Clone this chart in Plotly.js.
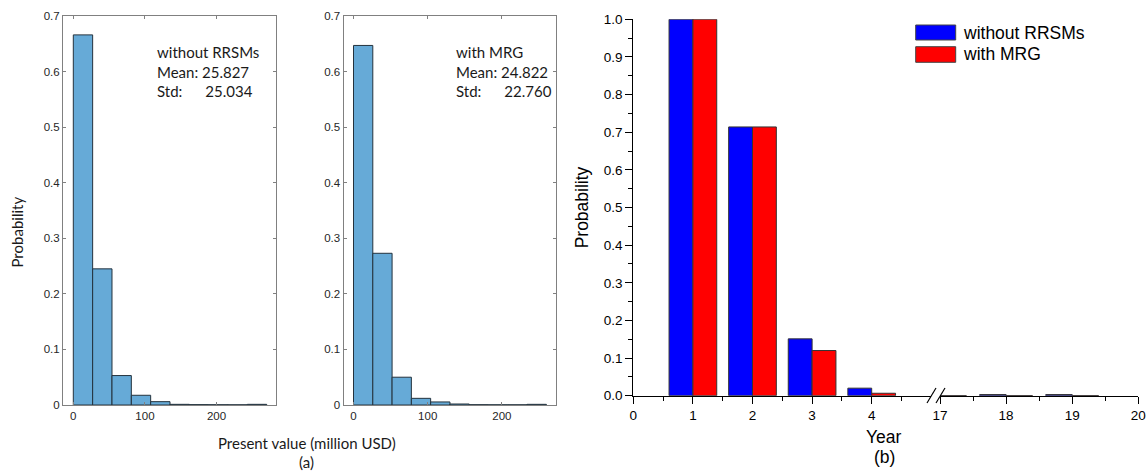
<!DOCTYPE html>
<html><head><meta charset="utf-8">
<script src="https://cdn.plot.ly/plotly-3.0.1.min.js"></script>
<style>html,body{margin:0;padding:0;background:#fff}#chart{width:1147px;height:474px}</style>
</head><body><div id="chart"></div>
<script>
// ---------- Panel (a): histograms of present value ----------
const binLeftA1 = [0, 27, 54, 81, 108, 135, 162, 189, 216, 243];
const binWidthA1 = 27;
const probA1 = [0.666, 0.245, 0.053, 0.0175, 0.006, 0.0012, 0.0006, 0.0004, 0.0003, 0.0012];
const binLeftA2 = [0, 26, 52, 78, 104, 130, 156, 182, 208, 234];
const binWidthA2 = 26;
const probA2 = [0.647, 0.273, 0.050, 0.012, 0.0055, 0.0018, 0.0005, 0.0003, 0.0003, 0.0012];
const labelA1 = 'without RRSMs', meanA1 = '25.827', stdA1 = '25.034';
const labelA2 = 'with MRG', meanA2 = '24.822', stdA2 = '22.760';
const xTicksA = [0, 100, 200];
const yTicksA = [0, 0.1, 0.2, 0.3, 0.4, 0.5, 0.6, 0.7];

// ---------- Panel (b): probability by year ----------
const years = [1, 2, 3, 4, 17, 18, 19];
const probWithout = [1.0, 0.714, 0.151, 0.020, 0.0005, 0.003, 0.003];
const probWithMRG = [1.0, 0.714, 0.120, 0.0065, 0.0003, 0.0004, 0.0004];
const seriesNames = ['without RRSMs', 'with MRG'];
const xTicksLeft = [0, 1, 2, 3, 4];
const xTicksRight = [17, 18, 19, 20];

const W = 1147, H = 474;
const px = v => v / W;
const py = v => 1 - v / H;

const histColor = '#66aad7', histEdge = '#24323d';
const blue = '#0000ff', red = '#ff0000', barEdge = '#333333';
const fontA = 'Lato, sans-serif';
const fontB = 'Liberation Sans, Arial, sans-serif';

function splitYears(vals, cond) {
  const xs = [], ys = [];
  years.forEach((y, i) => { if (cond(y)) { xs.push(y); ys.push(vals[i]); } });
  return {xs, ys};
}
const leftCond = y => y <= 5, rightCond = y => y >= 17;

const traces = [
  {type: 'bar', x: binLeftA1.map(b => b + binWidthA1 / 2), y: probA1, width: binWidthA1,
   xaxis: 'x', yaxis: 'y', marker: {color: histColor, line: {color: histEdge, width: 1}}, showlegend: false},
  {type: 'bar', x: binLeftA2.map(b => b + binWidthA2 / 2), y: probA2, width: binWidthA2,
   xaxis: 'x2', yaxis: 'y2', marker: {color: histColor, line: {color: histEdge, width: 1}}, showlegend: false}
];
[[probWithout, blue, -0.4, seriesNames[0]], [probWithMRG, red, 0, seriesNames[1]]].forEach(([vals, col, off, name]) => {
  [[leftCond, 'x3'], [rightCond, 'x4']].forEach(([cond, xa]) => {
    const d = splitYears(vals, cond);
    traces.push({type: 'bar', name: name, x: d.xs, y: d.ys, width: 0.4, offset: off,
      xaxis: xa, yaxis: 'y3', marker: {color: col, line: {color: barEdge, width: 1}}, showlegend: false});
  });
});

const axA = {
  showline: true, mirror: 'ticks', linecolor: '#808080', linewidth: 1,
  ticks: 'inside', ticklen: 3, tickcolor: '#808080',
  tickfont: {family: fontB, size: 11.5, color: '#262626'},
  showgrid: false, zeroline: false, fixedrange: true
};
const axB = {
  showline: true, linecolor: '#000', linewidth: 1,
  ticks: 'outside', ticklen: 7, tickcolor: '#000', tickwidth: 1,
  tickfont: {family: fontB, size: 13.5, color: '#000'},
  showgrid: false, zeroline: false, fixedrange: true
};

function note(x, y, text, font, size, extra) {
  return Object.assign({xref: 'paper', yref: 'paper', x: px(x), y: py(y), xanchor: 'center', yanchor: 'middle',
    showarrow: false, text: text, font: {family: font, size: size, color: font === fontA ? '#1a1a1a' : '#000'}}, extra || {});
}

const layout = {
  width: W, height: H,
  margin: {l: 0, r: 0, t: 0, b: 0},
  paper_bgcolor: '#fff', plot_bgcolor: 'rgba(0,0,0,0)',
  barmode: 'overlay', showlegend: false,
  xaxis: Object.assign({}, axA, {domain: [px(63), px(276)], anchor: 'y', range: [-14.4, 283], tickmode: 'array', tickvals: xTicksA}),
  yaxis: Object.assign({}, axA, {domain: [py(405), py(16)], anchor: 'x', range: [0, 0.7], tickmode: 'array', tickvals: yTicksA}),
  xaxis2: Object.assign({}, axA, {domain: [px(343.5), px(556)], anchor: 'y2', range: [-13.5, 273], tickmode: 'array', tickvals: xTicksA}),
  yaxis2: Object.assign({}, axA, {domain: [py(405), py(16)], anchor: 'x2', range: [0, 0.7], tickmode: 'array', tickvals: yTicksA}),
  xaxis3: Object.assign({}, axB, {domain: [px(633.3), px(931.3)], anchor: 'y3', range: [0, 5], tickmode: 'array', tickvals: xTicksLeft,
    minor: {tickmode: 'array', tickvals: [0.5, 1.5, 2.5, 3.5, 4.5], ticks: 'outside', ticklen: 4, tickcolor: '#000'}}),
  xaxis4: Object.assign({}, axB, {domain: [px(940), px(1138.3)], anchor: 'y3', range: [17, 20], tickmode: 'array', tickvals: xTicksRight,
    minor: {tickmode: 'array', tickvals: [17.5, 18.5, 19.5], ticks: 'outside', ticklen: 4, tickcolor: '#000'}}),
  yaxis3: Object.assign({}, axB, {domain: [py(395.7), py(19.3)], anchor: 'x3', range: [0, 1], dtick: 0.1, tickformat: '.1f',
    minor: {dtick: 0.05, ticks: 'outside', ticklen: 4, tickcolor: '#000'},
    title: {text: 'Probability', font: {family: fontB, size: 17.5, color: '#000'}}}),
  annotations: [
    note(156, 42, labelA1 + '<br>Mean: ' + meanA1 + '<br>Std:\u00a0\u00a0\u00a0\u00a0\u00a0\u00a0' + stdA1, fontA, 15,
      {xanchor: 'left', yanchor: 'top', align: 'left', borderpad: 0}),
    note(455, 42, labelA2 + '<br>Mean: ' + meanA2 + '<br>Std:\u00a0\u00a0\u00a0\u00a0\u00a0\u00a0' + stdA2, fontA, 15,
      {xanchor: 'left', yanchor: 'top', align: 'left', borderpad: 0}),
    note(17, 232.5, 'Probability', fontA, 15, {textangle: -90}),
    note(306.5, 443, 'Present value (million USD)', fontA, 15),
    note(306.5, 462, '(a)', fontA, 15),
    note(884, 437, 'Year', fontB, 17.5),
    note(884, 457, '(b)', fontB, 17.5),
    note(961, 32.5, seriesNames[0], fontB, 17.5, {xanchor: 'left'}),
    note(961, 54.5, seriesNames[1], fontB, 17.5, {xanchor: 'left'})
  ],
  shapes: [
    {type: 'rect', xref: 'paper', yref: 'paper', x0: px(915.7), x1: px(955.7), y0: py(40), y1: py(25), fillcolor: blue, line: {color: '#444', width: 1}},
    {type: 'rect', xref: 'paper', yref: 'paper', x0: px(915.7), x1: px(955.7), y0: py(62.3), y1: py(46.7), fillcolor: red, line: {color: '#444', width: 1}},
    {type: 'line', xref: 'paper', yref: 'paper', x0: px(927), y0: py(403), x1: px(936), y1: py(388), line: {color: '#000', width: 1.2}},
    {type: 'line', xref: 'paper', yref: 'paper', x0: px(936), y0: py(403), x1: px(945), y1: py(388), line: {color: '#000', width: 1.2}}
  ]
};

Plotly.newPlot('chart', traces, layout, {staticPlot: true, displayModeBar: false});
</script>
</body></html>
